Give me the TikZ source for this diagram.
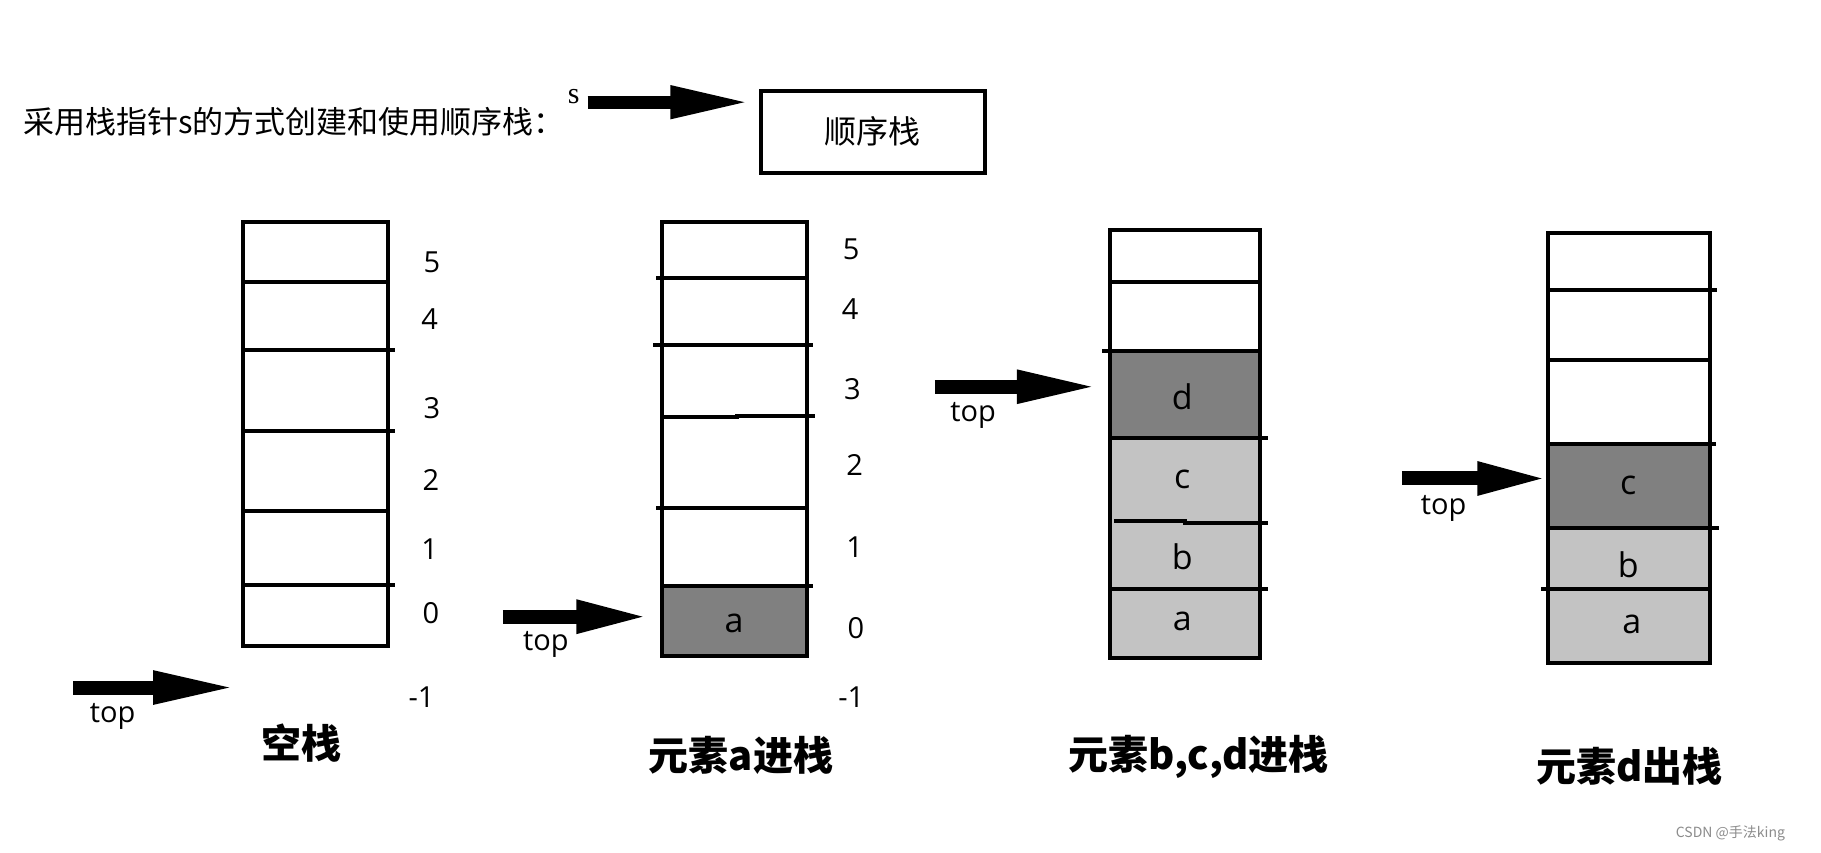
\documentclass[tikz,border=0pt]{standalone}
\usepackage{fontspec}
\setmainfont{Open Sans}
\newfontfamily\cjk{Noto Sans CJK SC}
\newfontfamily\serifs{Liberation Serif}
\usetikzlibrary{arrows.meta}
\definecolor{darkcell}{HTML}{808080}
\definecolor{lightcell}{HTML}{C3C3C3}
\tikzset{
  cellline/.style={line width=4pt, line cap=rect},
  bigarrow/.style={line width=14pt, -{Triangle[length=#1, width=30pt]}},
  bigarrow/.default=80pt,
  idx/.style={font=\fontsize{29}{29}\selectfont, inner sep=0pt},
  lett/.style={font=\fontsize{34}{34}\selectfont, inner sep=0pt},
  toplbl/.style={font=\fontsize{29}{29}\selectfont, inner sep=0pt},
  capt/.style={font=\cjk\bfseries\fontsize{40}{40}\selectfont, inner sep=0pt},
}
\begin{document}
\begin{tikzpicture}[x=1.1614pt, y=-1.1614pt]
\useasboundingbox (0,0) rectangle (1568,734);
\fill[white] (0,0) rectangle (1568,734);

% ---- header
\node[anchor=west, inner sep=0pt, font=\cjk\fontsize{31}{31}\selectfont] (title) at (20,105) {采用栈指针s的方式创建和使用顺序栈：};
\node[inner sep=0pt, font=\serifs\fontsize{30}{30}\selectfont] (slbl) at (494,83) {s};
\node[draw, line width=3.5pt, minimum width=224pt, minimum height=82pt, font=\cjk\fontsize{32}{32}\selectfont] (seq) at (751.5,113.5) {顺序栈};
\coordinate (sstart) at (506,88);
\coordinate (stip) at (647,88);
\draw[bigarrow=81pt, line width=13pt] (sstart) -- (stip);

% ---- stack 1 : empty
\draw[cellline] (209,191) rectangle (334,556);
\draw[cellline] (209,243) -- (334,243);
\draw[cellline] (209,301) -- (338,301);
\draw[cellline] (209,371) -- (338,371);
\draw[cellline] (209,440) -- (334,440);
\draw[cellline] (209,504) -- (338,504);
\node[idx] (a5) at (372,226) {5};
\node[idx] (a4) at (370,275) {4};
\node[idx] (a3) at (372,351) {3};
\node[idx] (a2) at (371,413) {2};
\node[idx] (a1) at (370,473) {1};
\node[idx] (a0) at (371,528) {0};
\node[idx] (am) at (363,600) {-1};
\coordinate (t1s) at (63,592);
\coordinate (t1e) at (205,592);
\draw[bigarrow=85pt] (t1s) -- (t1e);
\node[toplbl] (top1) at (97,617) {top};
\node[capt] (cap1) at (260,640) {空栈};

% ---- stack 2 : a pushed
\fill[darkcell] (570,505) rectangle (695,565);
\draw[cellline] (570,191) rectangle (695,565);
\draw[cellline] (567,239) -- (695,239);
\draw[cellline] (564,297) -- (698,297);
\draw[cellline] (570,359) -- (635,359) -- (635,358) -- (700,358);
\draw[cellline] (567,437) -- (695,437);
\draw[cellline] (570,505) -- (698,505);
\node[lett] (s2a) at (632,537) {a};
\node[idx] (b5) at (733,215) {5};
\node[idx] (b4) at (732,266) {4};
\node[idx] (b3) at (734,335) {3};
\node[idx] (b2) at (736,400) {2};
\node[idx] (b1) at (736,471) {1};
\node[idx] (b0) at (737,541) {0};
\node[idx] (bm) at (733,600) {-1};
\coordinate (t2s) at (433,531);
\coordinate (t2e) at (560,531);
\draw[bigarrow=74pt] (t2s) -- (t2e);
\node[toplbl] (top2) at (470,555) {top};
\node[capt] (cap2) at (638,650) {元素a进栈};

% ---- stack 3 : b, c, d pushed
\fill[darkcell] (956,302) rectangle (1085,377);
\fill[lightcell] (956,377) rectangle (1085,567);
\draw[cellline] (956,198) rectangle (1085,567);
\draw[cellline] (956,243) -- (1085,243);
\draw[cellline] (951,302) -- (1085,302);
\draw[cellline] (956,377) -- (1090,377);
\draw[cellline] (961,449) -- (1020,449) -- (1020,450) -- (1090,450);
\draw[cellline] (956,507) -- (1090,507);
\node[lett] (s3d) at (1018,342) {d};
\node[lett] (s3c) at (1018,413) {c};
\node[lett] (s3b) at (1018,479) {b};
\node[lett] (s3a) at (1018,535) {a};
\coordinate (t3s) at (805,333);
\coordinate (t3e) at (947,333);
\draw[bigarrow=83pt] (t3s) -- (t3e);
\node[toplbl] (top3) at (838,358) {top};
\node[capt] (cap3) at (1032,652) {元素b,c,d进栈};

% ---- stack 4 : d popped
\fill[darkcell] (1333,382) rectangle (1472,455);
\fill[lightcell] (1333,455) rectangle (1472,571);
\draw[cellline] (1333,201) rectangle (1472,571);
\draw[cellline] (1333,250) -- (1477,250);
\draw[cellline] (1333,310) -- (1472,310);
\draw[cellline] (1333,382) -- (1476,382);
\draw[cellline] (1333,455) -- (1478,455);
\draw[cellline] (1329,507) -- (1472,507);
\node[lett] (s4c) at (1402,418) {c};
\node[lett] (s4b) at (1402,486) {b};
\node[lett] (s4a) at (1405,538) {a};
\coordinate (t4s) at (1207,412);
\coordinate (t4e) at (1334,412);
\draw[bigarrow=72pt] (t4s) -- (t4e);
\node[toplbl] (top4) at (1243,438) {top};
\node[capt] (cap4) at (1403,660) {元素d出栈};

% ---- watermark
\node[inner sep=0pt, text=black!45, font=\cjk\fontsize{14}{14}\selectfont] (wm) at (1490,718) {CSDN @手法king};
\end{tikzpicture}
\end{document}
